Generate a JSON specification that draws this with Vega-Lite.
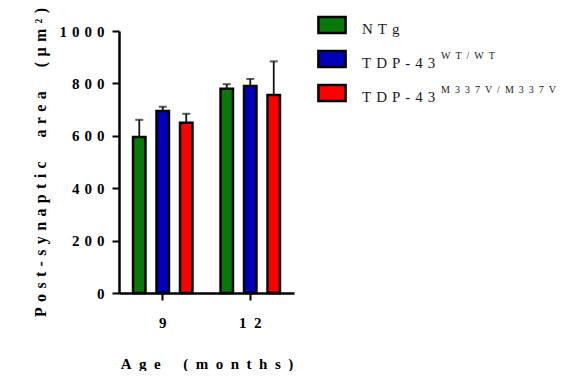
{
  "$schema": "https://vega.github.io/schema/vega-lite/v6.json",
  "padding": {"left": 32, "top": 7, "right": 0, "bottom": 0},
  "spacing": 19,
  "config": {
    "view": {"stroke": null},
    "font": "Liberation Serif",
    "axis": {"labelColor": "black", "titleColor": "black", "grid": false}
  },
  "datasets": {
    "bars": [
      {"age": "9", "genotype": "NTg", "mean": 595, "upper": 661},
      {"age": "9", "genotype": "TDP-43 WT/WT", "mean": 695, "upper": 711},
      {"age": "9", "genotype": "TDP-43 M337V/M337V", "mean": 650, "upper": 684},
      {"age": "12", "genotype": "NTg", "mean": 780, "upper": 797},
      {"age": "12", "genotype": "TDP-43 WT/WT", "mean": 790, "upper": 817},
      {"age": "12", "genotype": "TDP-43 M337V/M337V", "mean": 756, "upper": 884}
    ],
    "legend": [
      {"genotype": "NTg", "base": "NTg", "sup": ""},
      {"genotype": "TDP-43 WT/WT", "base": "TDP-43", "sup": "WT/WT"},
      {"genotype": "TDP-43 M337V/M337V", "base": "TDP-43", "sup": "M337V/M337V"}
    ]
  },
  "hconcat": [
    {
      "width": 175,
      "height": 262,
      "data": {"name": "bars"},
      "encoding": {
        "x": {
          "field": "age", "type": "nominal", "sort": ["9", "12"],
          "scale": {"paddingInner": 0.2, "paddingOuter": 0.1},
          "axis": {
            "title": "A\u2002g\u2002e\u2003\u2002(\u2002m\u2002o\u2002n\u2002t\u2002h\u2002s\u2002)",
            "titleFont": "Liberation Serif",
            "titleFontSize": 15, "titleFontWeight": "bold",
            "titlePadding": 26,
            "labelAngle": 0,
            "labelFont": "Liberation Serif",
            "labelFontSize": 15, "labelFontWeight": "bold",
            "labelExpr": "join(split(datum.label, ''), '\u2002')",
            "labelPadding": 15,
            "domainColor": "black", "domainWidth": 2.5,
            "tickColor": "black", "tickWidth": 2, "tickSize": 7
          }
        },
        "xOffset": {
          "field": "genotype", "type": "nominal",
          "sort": ["NTg", "TDP-43 WT/WT", "TDP-43 M337V/M337V"],
          "scale": {"paddingInner": 0.47, "paddingOuter": 0.225}
        }
      },
      "layer": [
        {
          "mark": {"type": "bar", "stroke": "black", "strokeWidth": 2.5},
          "encoding": {
            "y": {
              "field": "mean", "type": "quantitative",
              "scale": {"domain": [0, 1000], "nice": false},
              "axis": {
                "values": [0, 200, 400, 600, 800, 1000],
                "format": "d",
                "title": "P\u2004o\u2004s\u2004t\u2004-\u2004s\u2004y\u2004n\u2004a\u2004p\u2004t\u2004i\u2004c\u2003\u2002a\u2004r\u2004e\u2004a\u2003\u2002(\u2004\u00b5\u2004m\u2004\u00b2\u2004)",
                "titleFont": "Liberation Serif",
                "titleFontSize": 16, "titleFontWeight": "bold",
                "titlePadding": 10,
                "labelFont": "Liberation Serif",
                "labelFontSize": 15, "labelFontWeight": "bold",
                "labelExpr": "join(split(datum.label, ''), '\u2004')",
                "labelPadding": 8,
                "domainColor": "black", "domainWidth": 2.5,
                "tickColor": "black", "tickWidth": 2, "tickSize": 7
              }
            },
            "color": {
              "field": "genotype", "type": "nominal",
              "scale": {
                "domain": ["NTg", "TDP-43 WT/WT", "TDP-43 M337V/M337V"],
                "range": ["#087808", "#0000b8", "#ff0000"]
              },
              "legend": null
            }
          }
        },
        {
          "mark": {"type": "rule", "color": "#151515", "strokeWidth": 1.8},
          "encoding": {
            "y": {"field": "mean", "type": "quantitative"},
            "y2": {"field": "upper"}
          }
        },
        {
          "mark": {"type": "tick", "color": "#151515", "thickness": 2, "size": 8},
          "encoding": {
            "y": {"field": "upper", "type": "quantitative"}
          }
        }
      ]
    },
    {
      "width": 240,
      "height": 68,
      "data": {"name": "legend"},
      "encoding": {
        "y": {
          "field": "genotype", "type": "nominal",
          "sort": ["NTg", "TDP-43 WT/WT", "TDP-43 M337V/M337V"],
          "scale": {"type": "point", "padding": 0, "range": [-6, 62]},
          "axis": null
        },
        "x": {"datum": 0, "type": "quantitative", "scale": {"domain": [0, 1]}, "axis": null}
      },
      "layer": [
        {
          "mark": {
            "type": "point", "shape": "M-1.7,-1L1.7,-1L1.7,1L-1.7,1Z", "size": 256,
            "filled": true, "opacity": 1, "stroke": "black", "strokeWidth": 2.5
          },
          "encoding": {
            "color": {"field": "genotype", "type": "nominal", "legend": null}
          }
        },
        {
          "mark": {
            "type": "text", "align": "left", "baseline": "alphabetic",
            "dx": 30, "dy": 9, "fontSize": 15,
            "font": "Liberation Serif", "color": "#1a1a1a",
            "text": {"expr": "join(split(datum.base, ''), '\u2004')"}
          }
        },
        {
          "mark": {
            "type": "text", "align": "left", "baseline": "alphabetic",
            "dx": 109, "dy": 0, "fontSize": 10,
            "font": "Liberation Serif", "color": "#1a1a1a",
            "text": {"expr": "join(split(datum.sup, ''), '\u2002')"}
          }
        }
      ]
    }
  ]
}
